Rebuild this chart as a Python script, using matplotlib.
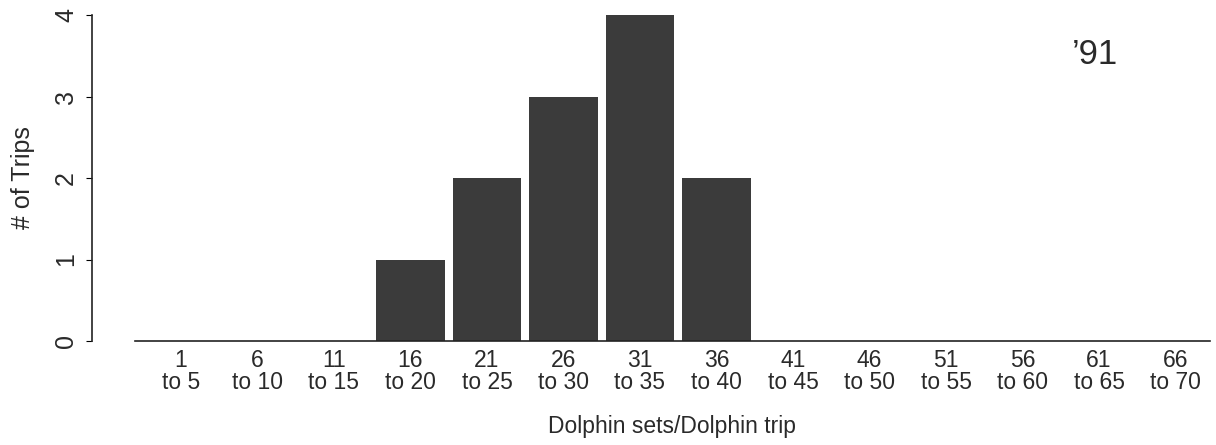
import matplotlib.pyplot as plt
import numpy as np

plt.rcParams['font.family'] = ['Liberation Sans', 'DejaVu Sans']

# Dolphin sets per trip, 1991
bin_starts = [1, 6, 11, 16, 21, 26, 31, 36, 41, 46, 51, 56, 61, 66]
bin_ends = [5, 10, 15, 20, 25, 30, 35, 40, 45, 50, 55, 60, 65, 70]
trips = [0, 0, 0, 1, 2, 3, 4, 2, 0, 0, 0, 0, 0, 0]
year_label = '\u201991'


def main():
    fig = plt.figure(figsize=(12.16, 4.45), dpi=100)
    ax = fig.add_axes([135 / 1216, 104 / 445, 1075 / 1216, 326 / 445])

    x = np.arange(len(trips))
    ax.bar(x, trips, width=0.9, color='#3b3b3b', edgecolor='none')

    ax.set_xlim(-0.6, 13.45)
    ax.set_ylim(0, 4)

    # x axis: a plain baseline with two-line bin labels, no tick marks
    labels = [f'{a}\nto {b}' for a, b in zip(bin_starts, bin_ends)]
    ax.set_xticks(x)
    ax.set_xticklabels(labels, fontsize=16.5, linespacing=0.95, color='#2a2a2a')
    ax.tick_params(axis='x', length=0, pad=6)

    # y axis sits apart from the bars
    ax.spines['left'].set_position(('outward', 31))
    ax.spines['left'].set_bounds(0, 4)
    ax.set_yticks([0, 1, 2, 3, 4])
    ax.tick_params(axis='y', length=4, pad=6, labelsize=18, labelcolor='#2a2a2a')
    for lab in ax.get_yticklabels():
        lab.set_rotation(90)
        lab.set_va('center')

    for side in ['top', 'right']:
        ax.spines[side].set_visible(False)
    for side in ['left', 'bottom']:
        ax.spines[side].set_linewidth(1.2)
        ax.spines[side].set_color('#222222')

    ax.set_ylabel('# of Trips', fontsize=18, color='#2a2a2a', labelpad=14)
    ax.set_xlabel('Dolphin sets/Dolphin trip', fontsize=16.5, color='#2a2a2a', labelpad=15)

    ax.text(0.893, 0.878, year_label, transform=ax.transAxes, fontsize=25,
            color='#2a2a2a', ha='center', va='center')

    fig.savefig('out.png', dpi=100)


if __name__ == '__main__':
    main()
